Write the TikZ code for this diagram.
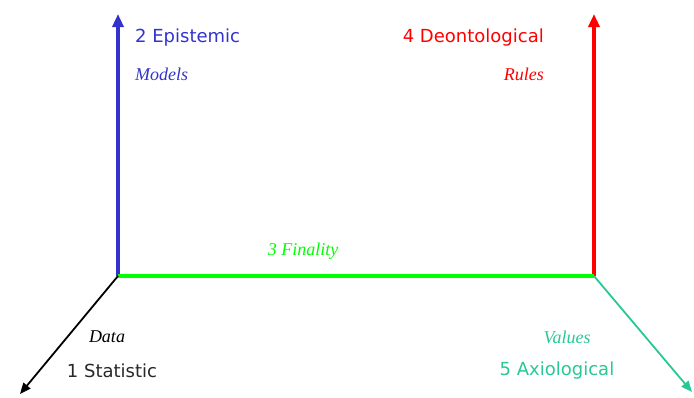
\documentclass[tikz,border=0pt]{standalone}
\usepackage{fontspec}
\setmainfont{Liberation Serif}
\newfontfamily\labfont{DejaVu Sans}
\usetikzlibrary{arrows.meta}
\definecolor{cblue}{RGB}{51,51,204}
\definecolor{cred}{RGB}{255,0,0}
\definecolor{cgreen}{RGB}{0,255,0}
\definecolor{cteal}{RGB}{40,200,150}
\definecolor{cdark}{RGB}{40,40,40}
\tikzset{
  axis/.style={line width=3.5pt},
  diag/.style={line width=1.8pt},
  tip/.style={-{Triangle[length=13pt,width=11pt]}},
  smalltip/.style={-{Triangle[length=11pt,width=9pt]}},
  title/.style={font=\labfont\fontsize{18}{21}\selectfont, inner sep=0pt},
  sub/.style={font=\itshape\fontsize{18}{21}\selectfont, inner sep=0pt},
}
\begin{document}
\begin{tikzpicture}[x=1pt,y=-1pt]
\useasboundingbox (0,0) rectangle (694,397);
\coordinate (O1) at (118,276);
\coordinate (O2) at (594,276);
\coordinate (E) at (118,14);
\coordinate (D) at (594,14);
\coordinate (S) at (20,394);
\coordinate (A) at (692,392);
\draw[axis,cblue,tip] (O1) -- (E);
\draw[axis,cred,tip] (O2) -- (D);
\draw[axis,cgreen] (O1) -- (O2);
\draw[diag,black,smalltip] (O1) -- (S);
\draw[diag,cteal,smalltip] (O2) -- (A);
\node[title,text=cblue,anchor=west] (t2) at (135,38) {2 Epistemic};
\node[sub,text=cblue,anchor=west] (s2) at (135,74) {Models};
\node[title,text=cred,anchor=east] (t4) at (544,38) {4 Deontological};
\node[sub,text=cred,anchor=east] (s4) at (544,74) {Rules};
\node[sub,text=cgreen] (t3) at (303,251) {3 Finality};
\node[sub,text=black] (s1) at (107,337) {Data};
\node[title,text=cdark] (t1) at (112,371) {1 Statistic};
\node[sub,text=cteal] (s5) at (567,337) {Values};
\node[title,text=cteal] (t5) at (557,371) {5 Axiological};
\end{tikzpicture}
\end{document}
